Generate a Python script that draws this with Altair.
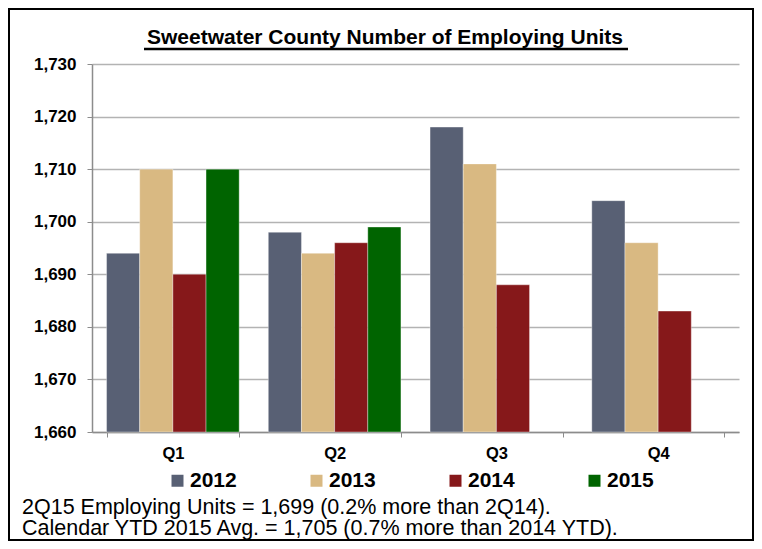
import altair as alt
import pandas as pd

quarters = ["Q1", "Q2", "Q3", "Q4"]
years = ["2012", "2013", "2014", "2015"]
v2012 = [1694, 1698, 1718, 1704]
v2013 = [1710, 1694, 1711, 1696]
v2014 = [1690, 1696, 1688, 1683]
v2015 = [1710, 1699, None, None]
colors = ["#586074", "#d9b982", "#86181a", "#006400"]
y_ticks = [1660, 1670, 1680, 1690, 1700, 1710, 1720, 1730]
title_text = "Sweetwater County Number of Employing Units"
notes = ["2Q15 Employing Units = 1,699 (0.2% more than 2Q14).",
         "Calendar YTD 2015 Avg. = 1,705 (0.7% more than 2014 YTD)."]

rows = []
for yr, vals in zip(years, [v2012, v2013, v2014, v2015]):
    for q, v in zip(quarters, vals):
        if v is not None:
            rows.append({"quarter": q, "year": yr, "value": v})
df = pd.DataFrame(rows)

FONT = "Liberation Sans"
W, H = 647, 368

bars = alt.Chart(df).mark_bar(stroke="#ffffff", strokeWidth=0.6, strokeOpacity=0.6).encode(
    x=alt.X("quarter:N", sort=quarters,
            scale=alt.Scale(paddingInner=0.18, paddingOuter=0.09),
            axis=alt.Axis(title=None, labelAngle=0, labelFontSize=16.5, labelFontWeight="bold",
                          labelColor="black", tickBand="extent", tickSize=5, tickColor="#8c8c8c",
                          domainColor="#8c8c8c", domainWidth=1.5, labelPadding=8, grid=False)),
    xOffset=alt.XOffset("year:N", sort=years, scale=alt.Scale(domain=years, paddingInner=0, paddingOuter=0)),
    y=alt.Y("value:Q", scale=alt.Scale(domain=[1660, 1730], nice=False, zero=False),
            axis=alt.Axis(title=None, values=y_ticks, format=",d", labelFontSize=17,
                          labelFontWeight="bold", labelColor="black", tickSize=5,
                          tickColor="#8c8c8c", domainColor="#8c8c8c", domainWidth=1.5,
                          gridColor="#b3b3b3", gridWidth=1.5, labelPadding=11)),
    y2=alt.datum(1660),
    color=alt.Color("year:N", scale=alt.Scale(domain=years, range=colors),
                    legend=alt.Legend(title=None, orient="none", legendX=75, legendY=406,
                                      direction="horizontal", columns=4, symbolType="square",
                                      symbolSize=144, symbolStrokeWidth=0, labelFontSize=21,
                                      labelFontWeight="bold", labelColor="black",
                                      labelOffset=2, columnPadding=69)),
)

one = pd.DataFrame({"t": [title_text]})
title = alt.Chart(one).mark_text(fontSize=21, fontWeight="bold", font=FONT, color="black",
                                 align="center", baseline="middle").encode(
    x=alt.value(293), y=alt.value(-26), text="t:N")
underline = alt.Chart(one).mark_rule(color="black", strokeWidth=2.5).encode(
    x=alt.value(52), x2=alt.value(536), y=alt.value(-15))

note_block = alt.Chart(one).mark_text(
    fontSize=21.5, font=FONT, color="black", align="left", baseline="middle",
    lineHeight=21).encode(
    x=alt.value(-70), y=alt.value(444), text=alt.value(notes))

border = alt.Chart(one).mark_rect(filled=False, stroke="black", strokeWidth=2).encode(
    x=alt.value(-83), x2=alt.value(661), y=alt.value(-55), y2=alt.value(476))

chart = alt.layer(bars, title, underline, note_block, border).properties(
    width=W, height=H,
    autosize=alt.AutoSizeParams(type="none"),
    padding={"left": 84, "top": 56, "right": 15, "bottom": 109},
).configure(font=FONT).configure_view(stroke=None)

chart.save("out.html", embed_options={"renderer": "svg", "actions": False})
